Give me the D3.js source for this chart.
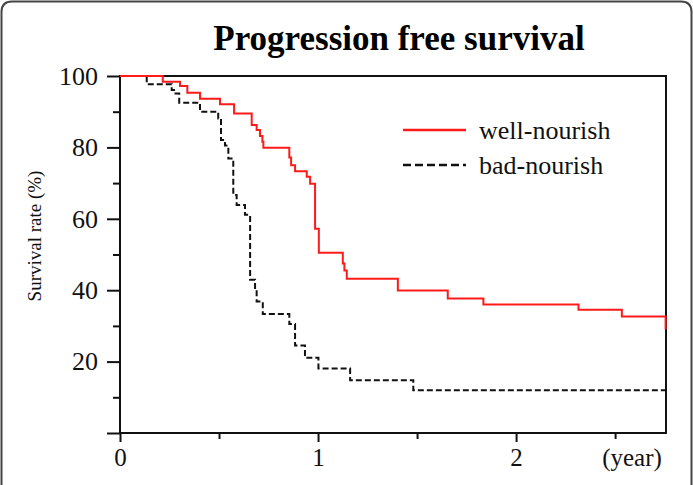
<!DOCTYPE html>
<html><head><meta charset="utf-8">
<script src="https://cdn.jsdelivr.net/npm/d3@7"></script>
<style>body{margin:0;background:#fff}svg{display:block}</style>
</head><body>
<svg id="c" width="693" height="485"></svg>
<script>
// ---- data ----
const title = "Progression free survival";
const seriesNames = ["well-nourish", "bad-nourish"];
const wellTime = [0, 0.216, 0.303, 0.340, 0.404, 0.505, 0.576, 0.665, 0.690, 0.707, 0.719, 0.724, 0.855, 0.864, 0.884, 0.943, 0.960, 0.985, 1.004, 1.125, 1.133, 1.145, 1.403, 1.655, 1.835, 2.315, 2.534, 2.755];
const wellSurv = [100, 98.4, 97.2, 95.3, 93.6, 92.1, 89.5, 86.3, 84.9, 83.2, 81.6, 79.9, 77.2, 75.0, 73.3, 71.8, 69.8, 57.2, 50.5, 47.5, 45.5, 43.2, 39.9, 37.7, 36.0, 34.5, 32.6, 29.0];
const badTime = [0, 0.135, 0.261, 0.273, 0.299, 0.404, 0.496, 0.510, 0.530, 0.547, 0.572, 0.589, 0.631, 0.657, 0.682, 0.690, 0.721, 0.855, 0.884, 0.934, 1.002, 1.162, 1.481, 2.755];
const badSurv = [100, 97.7, 96.1, 95.1, 92.5, 90.0, 88.1, 82.1, 80.5, 76.9, 66.7, 63.9, 61.1, 42.9, 40.1, 36.8, 33.3, 30.5, 24.5, 21.1, 18.1, 14.8, 12.0, 12.0];
const yMajorTicks = [0, 20, 40, 60, 80, 100];
const yMinorTicks = [10, 30, 50, 70, 90];
const xMajorTicks = [0, 1, 2];
const xMinorTicks = [0.5, 1.5, 2.5];
const xUnit = "(year)";
const yLabel = "Survival rate (%)";

// ---- layout ----
const svg = d3.select("#c");
const L = 120, R = 666, T = 76, B = 433;
const x = d3.scaleLinear().domain([0, 2.757]).range([L, R]);
const y = d3.scaleLinear().domain([0, 100]).range([B, T]);
const font = "'Liberation Serif','Times New Roman',serif";

// outer rounded frame
svg.append("path")
  .attr("d", "M1.5,485 L1.5,12 Q1.5,1.5 12,1.5 L681,1.5 Q691.5,1.5 691.5,12 L691.5,485")
  .attr("fill", "none").attr("stroke", "#444").attr("stroke-width", 2);

svg.append("text").attr("x", 399).attr("y", 50)
  .attr("text-anchor", "middle").attr("font-family", font)
  .attr("font-weight", "bold").attr("font-size", 35).text(title);

// axes
const gy = svg.append("g").attr("transform", `translate(${L},0)`);
gy.call(d3.axisLeft(y).tickValues(yMajorTicks).tickSize(13).tickPadding(9)
  .tickFormat(d => d === 0 ? "" : d));
gy.call(g => g.select(".domain").remove());
const gy2 = svg.append("g").attr("transform", `translate(${L},0)`);
gy2.call(d3.axisLeft(y).tickValues(yMinorTicks).tickSize(7).tickFormat(""));
gy2.select(".domain").remove();

const gx = svg.append("g").attr("transform", `translate(0,${B})`);
gx.call(d3.axisBottom(x).tickValues(xMajorTicks).tickSize(9).tickFormat(d3.format("d")));
gx.select(".domain").remove();
gx.selectAll("text").attr("y", 33).attr("dy", 0);
const gx2 = svg.append("g").attr("transform", `translate(0,${B})`);
gx2.call(d3.axisBottom(x).tickValues(xMinorTicks).tickSize(6).tickFormat(""));
gx2.select(".domain").remove();

svg.selectAll(".tick line").attr("stroke", "#111").attr("stroke-width", 2);
svg.selectAll(".tick text").attr("font-family", font).attr("font-size", 26).attr("fill", "#111");
gx.selectAll("text").attr("font-size", 25);

svg.append("text").attr("x", 632).attr("y", B + 33).attr("text-anchor", "middle")
  .attr("font-family", font).attr("font-size", 25).attr("fill", "#111").text(xUnit);

svg.append("text").attr("transform", `translate(41,236) rotate(-90)`)
  .attr("text-anchor", "middle").attr("font-family", font).attr("font-size", 19)
  .attr("fill", "#111").text(yLabel);

// plot box
svg.append("rect").attr("x", L).attr("y", T).attr("width", R - L).attr("height", B - T)
  .attr("fill", "none").attr("stroke", "#111").attr("stroke-width", 2);

// curves
const line = d3.line().x(d => x(d[0])).y(d => y(d[1])).curve(d3.curveStepAfter);
svg.append("path").datum(badTime.map((t, i) => [t, badSurv[i]]))
  .attr("d", line).attr("fill", "none").attr("stroke", "#111")
  .attr("stroke-width", 2).attr("stroke-dasharray", "6,3");
svg.append("path").datum(wellTime.map((t, i) => [t, wellSurv[i]]))
  .attr("d", line).attr("fill", "none").attr("stroke", "#ff1a1a")
  .attr("stroke-width", 2);

// legend
const leg = [{name: seriesNames[0], color: "#ff1a1a", dash: null, y: 130},
             {name: seriesNames[1], color: "#111", dash: "8,4", y: 165}];
leg.forEach(d => {
  svg.append("line").attr("x1", 403).attr("x2", 466).attr("y1", d.y).attr("y2", d.y)
    .attr("stroke", d.color).attr("stroke-width", 2.5).attr("stroke-dasharray", d.dash);
  svg.append("text").attr("x", 479).attr("y", d.y + 9).attr("font-family", font)
    .attr("font-size", 26).attr("fill", "#111").text(d.name);
});
</script>
</body></html>
